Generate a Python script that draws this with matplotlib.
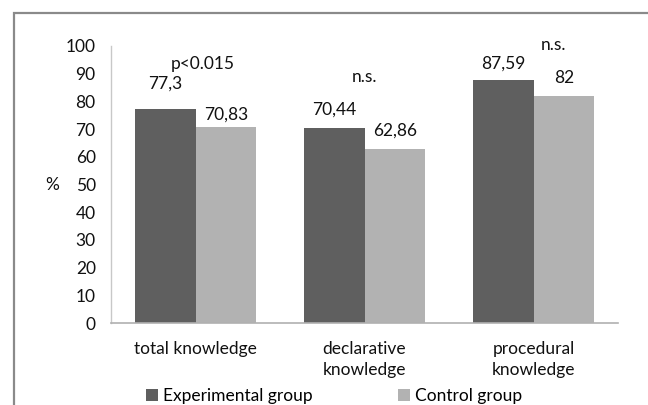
import numpy as np
import matplotlib
matplotlib.use("Agg")
import matplotlib.pyplot as plt
from matplotlib.patches import Rectangle

plt.rcParams["font.family"] = ["Lato", "DejaVu Sans"]

categories = ["total knowledge", "declarative\nknowledge", "procedural\nknowledge"]
experimental = [77.3, 70.44, 87.59]
control = [70.83, 62.86, 82]
exp_labels = ["77,3", "70,44", "87,59"]
ctl_labels = ["70,83", "62,86", "82"]
significance = ["p<0.015", "n.s.", "n.s."]
yticks = list(range(0, 101, 10))

# label layout: baseline offsets in px above bar tops, annotation spots
exp_offsets = [20, 13, 12]
ctl_offsets = [7, 13, 13]
sig_pos = [(0.045, 91.8), (1.0, 87.0), (2.12, 98.6)]

dark = "#5f5f5f"
light = "#b2b2b2"
txt = "#111111"
fs = 12.5

fig = plt.figure(figsize=(6.48, 4.05), dpi=100)
ax = fig.add_axes([111 / 648, 1 - 323 / 405, 507 / 648, 277 / 405])

x = np.arange(len(categories))
w = 0.36
b1 = ax.bar(x - w / 2, experimental, w, color=dark, label="Experimental group")
b2 = ax.bar(x + w / 2, control, w, color=light, label="Control group")

for xi, v, t, off in zip(x - w / 2, experimental, exp_labels, exp_offsets):
    ax.annotate(t, (xi, v), xytext=(0, off * 0.72), textcoords="offset points",
                ha="center", va="baseline", fontsize=fs, color=txt)
for xi, v, t, off in zip(x + w / 2, control, ctl_labels, ctl_offsets):
    ax.annotate(t, (xi, v), xytext=(0, off * 0.72), textcoords="offset points",
                ha="center", va="baseline", fontsize=fs, color=txt)
for (sx, sy), t in zip(sig_pos, significance):
    ax.text(sx, sy, t, ha="center", va="baseline", fontsize=fs, color=txt,
            clip_on=False)

ax.set_xlim(-0.5, 2.5)
ax.set_ylim(0, 100)
ax.set_yticks(yticks)
ax.set_xticks(x)
ax.set_xticklabels(categories)
ax.tick_params(axis="both", length=0, labelsize=fs, labelcolor=txt)
ax.tick_params(axis="y", pad=11)
ax.tick_params(axis="x", pad=13)
for lab in ax.get_xticklabels():
    lab.set_linespacing(1.4)

ax.set_ylabel("%", rotation=0, fontsize=fs, color=txt, va="center", ha="center")
ax.yaxis.set_label_coords(-0.116, 0.5)

for s in ["top", "right"]:
    ax.spines[s].set_visible(False)
ax.spines["left"].set_color("#c8c8c8")
ax.spines["bottom"].set_color("#b0b0b0")
ax.spines["left"].set_linewidth(1.0)
ax.spines["bottom"].set_linewidth(1.2)

fig.legend(handles=[b1, b2], loc="center", ncol=2,
           bbox_to_anchor=(334 / 648, 1 - 396 / 405), frameon=False,
           fontsize=fs, handlelength=0.7, handleheight=0.7,
           handletextpad=0.3, columnspacing=4.9, borderaxespad=0)

# chart border, only its left and top edges fall inside the image
fig.patches.append(Rectangle((14 / 648, -0.2), 1.2, 0.2 + 1 - 13 / 405,
                             transform=fig.transFigure, fill=False,
                             edgecolor="#8a8a8a", linewidth=1.6))

fig.savefig("out.png", dpi=100)
